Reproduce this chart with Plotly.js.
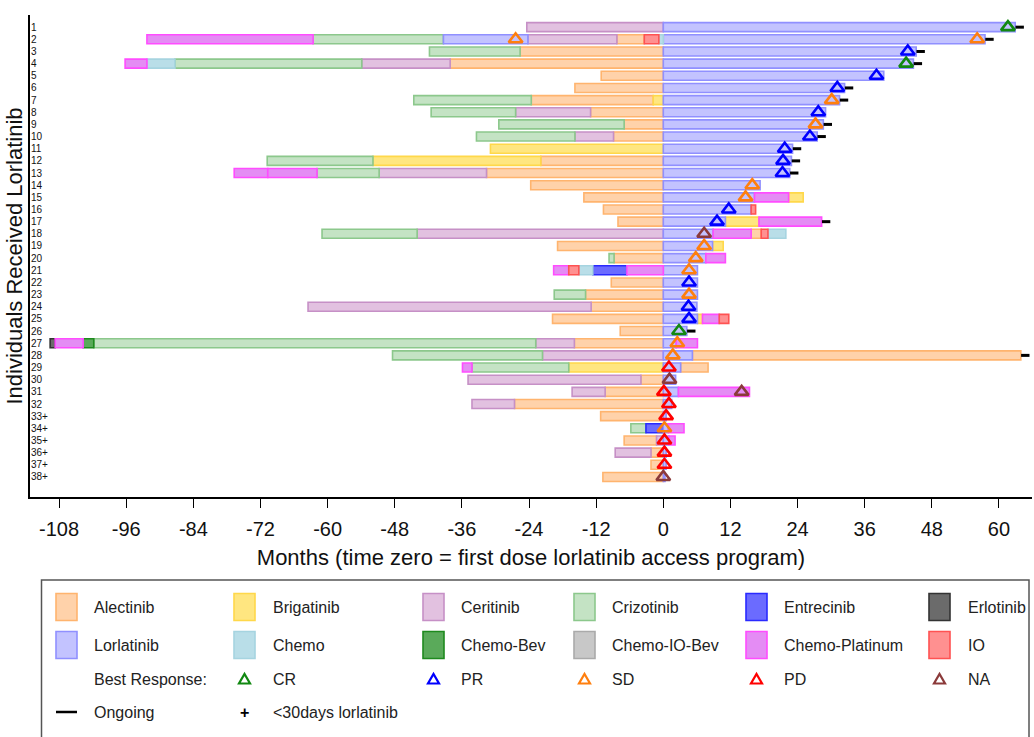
<!DOCTYPE html>
<html><head><meta charset="utf-8">
<script src="https://cdn.plot.ly/plotly-3.0.1.min.js"></script>
<style>html,body{margin:0;padding:0;background:#fff}</style>
</head><body><div id="chart" style="width:1034px;height:737px"></div>
<script>
// ---------- DATA ----------
const rowLabels = ['1','2','3','4','5','6','7','8','9','10','11','12','13','14','15','16','17','18','19','20',
  '21','22','23','24','25','26','27','28','29','30','31','32','33+','34+','35+','36+','37+','38+'];
const xTicks = [-108,-96,-84,-72,-60,-48,-36,-24,-12,0,12,24,36,48,60];

// segments: [row, start month, end month]
const alectinib = [[2,-8.3,-3.4],[3,-25.6,0],[4,-38.1,0],[5,-11.1,0],[6,-15.8,0],[7,-23.6,-1.8],[8,-13.0,0],
  [9,-7.0,0],[10,-8.9,0],[12,-21.9,0],[13,-31.6,0],[14,-23.7,0],[15,-14.2,0],[16,-10.7,0],[17,-8.1,0],
  [18,15.7,17.5],[19,-18.9,0],[20,-8.8,0],[22,-9.3,0],[23,-13.9,0],[24,-12.9,0],[25,-19.8,0],[26,-7.7,0],
  [27,-15.9,0],[28,5.2,63.9],[29,3.1,8.0],[30,-4.0,0],[31,-10.4,0],[32,-26.6,0],[33,-11.2,0],[35,-7.0,-1.2],
  [36,-2.2,0],[37,-2.2,0],[38,-10.8,0]];
const lorlatinib = [[1,0,62.9],[2,-39.3,-24.2],[2,0,57.5],[3,0,45.2],[4,0,44.7],[5,0,39.4],[6,0,32.4],[7,0,31.5],
  [8,0,29.0],[9,0,28.6],[10,0,27.5],[11,0,23.1],[12,0,22.9],[13,0,22.6],[14,0,17.3],[15,0,16.3],[16,0,15.7],
  [17,0,11.1],[18,0,8.9],[19,0,8.8],[20,0,7.6],[21,0,6.1],[22,0,6.1],[23,0,6.1],[24,0,6.0],[25,0,6.1],
  [26,0,4.2],[27,0,2.3],[28,0,5.2],[29,0,3.1],[30,0,2.2],[31,0,2.7],[32,0,1.5],[33,0,0.5],[34,0,0.9],
  [35,0,1.0],[36,0,0.5],[37,0,0.5],[38,0,0.3]];
const ceritinib = [[1,-24.4,0],[2,-24.2,-8.3],[4,-53.9,-38.1],[8,-26.4,-13.0],[10,-15.8,-8.9],[13,-50.8,-31.6],
  [18,-44.0,0],[24,-63.5,-12.9],[27,-22.8,-15.9],[28,-21.6,0],[30,-34.9,-4.0],[31,-16.3,-10.4],[32,-34.2,-26.6],
  [35,-1.2,0],[36,-8.6,-2.2]];
const crizotinib = [[2,-62.6,-39.3],[3,-41.8,-25.6],[4,-87.3,-53.9],[7,-44.6,-23.6],[8,-41.5,-26.4],[9,-29.4,-7.0],
  [10,-33.4,-15.8],[12,-70.8,-51.9],[13,-61.9,-50.8],[18,-61.0,-44.0],[20,-9.7,-8.8],[23,-19.5,-13.9],
  [27,-101.8,-22.8],[28,-48.4,-21.6],[29,-34.2,-16.9],[34,-5.8,-3.1]];
const brigatinib = [[7,-1.8,0],[11,-30.9,0],[12,-51.9,-21.9],[15,22.4,25.0],[17,11.1,17.1],[19,8.8,10.7],
  [25,6.1,7.0],[29,-16.9,0]];
const chemo = [[2,-0.8,0],[4,-92.3,-87.3],[18,18.7,21.9],[21,-15.1,-12.6]];
const chemoBev = [[27,-103.7,-101.8]];
const chemoIOBev = [];
const chemoPlatinum = [[2,-92.3,-62.6],[4,-96.2,-92.3],[13,-76.7,-70.7],[13,-70.7,-61.9],[15,16.3,22.4],
  [17,17.1,28.3],[18,8.9,15.7],[20,7.6,11.1],[21,-19.6,-16.9],[21,-6.5,0],[25,7.0,10.0],[27,-108.7,-103.7],
  [27,2.3,6.1],[29,-35.9,-34.2],[31,2.7,15.4],[34,0.9,3.7],[35,1.0,2.1]];
const entrecinib = [[21,-12.6,-6.5],[34,-3.1,0]];
const erlotinib = [[27,-109.6,-108.7]];
const io = [[2,-3.4,-0.8],[16,15.7,16.5],[18,17.5,18.7],[21,-16.9,-15.1],[25,10.0,11.7]];

// best response: [row, month]
const respCR = [[1,61.6],[4,43.4],[26,2.8]];
const respPR = [[3,43.7],[5,38.1],[6,31.1],[8,27.7],[10,26.2],[11,21.7],[12,21.4],[13,21.3],[16,11.7],
  [17,9.6],[22,4.6],[24,4.5],[25,4.6]];
const respSD = [[2,-26.4],[2,56.1],[7,30.1],[9,27.2],[14,15.9],[15,14.7],[19,7.3],[20,5.8],[21,4.6],
  [23,4.6],[27,2.5],[28,1.7],[34,0.2]];
const respPD = [[29,1.0],[31,0.1],[32,1.0],[33,0.5],[35,0.2],[36,0.2],[37,0.2]];
const respNA = [[18,7.3],[30,1.1],[31,14.0],[38,0.0]];

const ongoingRows = [1,2,3,4,6,7,9,10,11,12,13,17,26,28];

// ---------- STYLE ----------
const treatments = [
  {name:'Alectinib', data:alectinib, fill:'#FFD2AA', line:'#FFB46E'},
  {name:'Brigatinib', data:brigatinib, fill:'#FFE680', line:'#FFD84A'},
  {name:'Ceritinib', data:ceritinib, fill:'#E2C1E0', line:'#C690C6'},
  {name:'Crizotinib', data:crizotinib, fill:'#C4E3C4', line:'#8CC88C'},
  {name:'Entrecinib', data:entrecinib, fill:'#6B6BFF', line:'#2A2AFF'},
  {name:'Erlotinib', data:erlotinib, fill:'#6B6B6B', line:'#333333'},
  {name:'Lorlatinib', data:lorlatinib, fill:'#C3C3FF', line:'#9090FF'},
  {name:'Chemo', data:chemo, fill:'#B9DEE8', line:'#A6D4E0'},
  {name:'Chemo-Bev', data:chemoBev, fill:'#5AAA5A', line:'#1E8A1E'},
  {name:'Chemo-IO-Bev', data:chemoIOBev, fill:'#C8C8C8', line:'#AAAAAA'},
  {name:'Chemo-Platinum', data:chemoPlatinum, fill:'#E48CF4', line:'#FF4CFF'},
  {name:'IO', data:io, fill:'#FF9090', line:'#FF5252'}
];
const responses = [
  {name:'CR', data:respCR, color:'#118811'},
  {name:'PR', data:respPR, color:'#0000FF'},
  {name:'SD', data:respSD, color:'#FF7F0E'},
  {name:'PD', data:respPD, color:'#FF0000'},
  {name:'NA', data:respNA, color:'#8B3A3A'}
];

const traces = [];
treatments.forEach(t => {
  traces.push({
    type:'bar', orientation:'h', name:t.name,
    y:t.data.map(d=>d[0]), base:t.data.map(d=>d[1]), x:t.data.map(d=>d[2]-d[1]),
    width:0.74,
    marker:{color:t.fill, line:{color:t.line, width:1.6}},
    hoverinfo:'skip'
  });
});
// ongoing markers just beyond the last segment end of each row
const allSegs = treatments.flatMap(t=>t.data);
const ongoingX = ongoingRows.map(r => Math.max(...allSegs.filter(s=>s[0]===r).map(s=>s[2])) + 0.8);
traces.push({type:'scatter', mode:'markers', x:ongoingX, y:ongoingRows,
  marker:{symbol:'line-ew', size:6, color:'#000', line:{color:'#000', width:3}}, hoverinfo:'skip'});
responses.forEach(r => {
  traces.push({type:'scatter', mode:'markers', name:r.name,
    x:r.data.map(d=>d[1]), y:r.data.map(d=>d[0]),
    marker:{symbol:'triangle-up-open', size:12, color:r.color, line:{color:r.color, width:2.6}},
    hoverinfo:'skip'});
});

// ---------- LEGEND (drawn as shapes/annotations) ----------
const L=30, R=1032, T=15, B=497;
const PX = px => (px-L)/(R-L);
const PY = py => (B-py)/(B-T);
const shapes = [], annotations = [];
shapes.push({type:'rect', xref:'paper', yref:'paper', x0:PX(41.5), x1:PX(1029), y0:PY(580), y1:PY(760),
  line:{color:'#555', width:1.5}, fillcolor:'rgba(0,0,0,0)'});
const colSw = [56,234,423,574,746,929];
const colTx = [92,271,459,610,782,966];
const rowY = [607,645,679,712];
treatments.forEach((t,i) => {
  const r = Math.floor(i/6), c = i%6;
  shapes.push({type:'rect', xref:'paper', yref:'paper', x0:PX(colSw[c]), x1:PX(colSw[c]+21),
    y0:PY(rowY[r]+13.5), y1:PY(rowY[r]-13.5), fillcolor:t.fill, line:{color:t.line, width:1.6}});
  annotations.push({xref:'paper', yref:'paper', x:PX(colTx[c]), y:PY(rowY[r]), text:t.name, showarrow:false,
    xanchor:'left', yanchor:'middle', font:{size:16, color:'#222'}});
});
annotations.push({xref:'paper', yref:'paper', x:PX(colTx[0]), y:PY(rowY[2]), text:'Best Response:', showarrow:false,
  xanchor:'left', yanchor:'middle', font:{size:16, color:'#222'}});
responses.forEach((r,i) => {
  const c = i+1, cx = colSw[c]+10.5, cy = rowY[2];
  shapes.push({type:'path', xref:'paper', yref:'paper',
    path:`M ${PX(cx-5.5)},${PY(cy+4.5)} L ${PX(cx+5.5)},${PY(cy+4.5)} L ${PX(cx)},${PY(cy-5)} Z`,
    line:{color:r.color, width:2.2}, fillcolor:'rgba(0,0,0,0)'});
  annotations.push({xref:'paper', yref:'paper', x:PX(colTx[c]), y:PY(cy), text:r.name, showarrow:false,
    xanchor:'left', yanchor:'middle', font:{size:16, color:'#222'}});
});
shapes.push({type:'line', xref:'paper', yref:'paper', x0:PX(colSw[0]), x1:PX(colSw[0]+21), y0:PY(rowY[3]), y1:PY(rowY[3]),
  line:{color:'#000', width:2.5}});
annotations.push({xref:'paper', yref:'paper', x:PX(colTx[0]), y:PY(rowY[3]), text:'Ongoing', showarrow:false,
  xanchor:'left', yanchor:'middle', font:{size:16, color:'#222'}});
annotations.push({xref:'paper', yref:'paper', x:PX(colSw[1]+10.5), y:PY(rowY[3]), text:'<b>+</b>', showarrow:false,
  xanchor:'center', yanchor:'middle', font:{size:16, color:'#000'}});
annotations.push({xref:'paper', yref:'paper', x:PX(colTx[1]), y:PY(rowY[3]), text:'&lt;30days lorlatinib', showarrow:false,
  xanchor:'left', yanchor:'middle', font:{size:16, color:'#222'}});

const layout = {
  width:1034, height:737,
  margin:{l:L, r:1034-R, t:T, b:737-B},
  paper_bgcolor:'#fff', plot_bgcolor:'#fff',
  showlegend:false, barmode:'overlay',
  font:{family:'Liberation Sans, Arial, sans-serif', color:'#111'},
  xaxis:{range:[-113.2,65.9], tickvals:xTicks, ticktext:xTicks.map(String), ticks:'outside', ticklen:9,
    tickwidth:1, tickcolor:'#000', showline:true, linecolor:'#000', linewidth:2, showgrid:false, zeroline:false,
    tickfont:{size:20, color:'#111'}, ticklabelstandoff:4,
    title:{text:'Months (time zero = first dose lorlatinib access program)', font:{size:22, color:'#111'}, standoff:11}},
  yaxis:{range:[39.65,0.0], tickvals:rowLabels.map((_,i)=>i+1), ticktext:rowLabels, ticklabelposition:'inside',
    ticks:'', showline:true, linecolor:'#000', linewidth:2, showgrid:false, zeroline:false,
    tickfont:{size:10, color:'#111'},
    title:{text:'Individuals Received Lorlatinib', font:{size:22, color:'#111'}, standoff:2}},
  shapes:shapes, annotations:annotations
};
Plotly.newPlot('chart', traces, layout, {staticPlot:true, displayModeBar:false});
</script>
</body></html>
